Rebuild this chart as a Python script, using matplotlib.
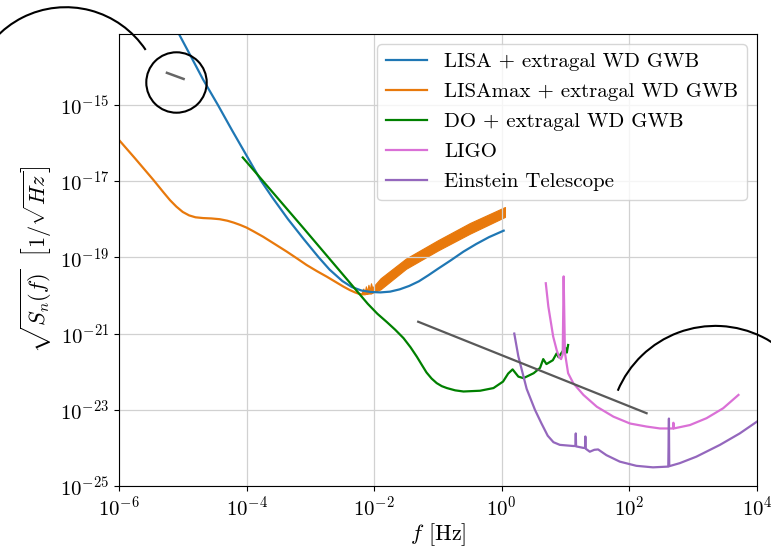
import numpy as np
import matplotlib
matplotlib.use("Agg")
import matplotlib.pyplot as plt
from matplotlib.patches import Arc
from matplotlib.ticker import NullLocator

plt.rcParams.update({
    "font.family": "serif",
    "font.serif": ["cmr10"],
    "mathtext.fontset": "cm",
    "axes.formatter.use_mathtext": True,
})

# all values are log10 of f [Hz] and of sqrt(Sn)
lisa_lf = [-5.06, -4.85, -4.68, -4.45, -4.23, -4.0, -3.77, -3.6, -3.35, -3.1, -2.87,
           -2.7, -2.5, -2.35, -2.2, -2.05, -1.9, -1.75, -1.6, -1.45, -1.3, -1.15, -1.0,
           -0.8, -0.6, -0.4, -0.2, 0.03]
lisa_ls = [-13.14, -13.8, -14.34, -15.0, -15.66, -16.33, -17.0, -17.42, -18.0, -18.53, -19.0,
           -19.32, -19.62, -19.78, -19.87, -19.91, -19.92, -19.9, -19.84, -19.75, -19.63,
           -19.47, -19.3, -19.08, -18.85, -18.65, -18.47, -18.3]

lmax_lf = [-6.0, -5.75, -5.46, -5.3, -5.2, -5.1, -5.0, -4.9, -4.8, -4.68, -4.55, -4.42,
           -4.3, -4.2, -4.1, -4.0, -3.9, -3.74, -3.55, -3.37, -3.2, -3.06, -2.9, -2.74,
           -2.6, -2.48, -2.38, -2.3, -2.25, -2.2]
lmax_ls = [-15.92, -16.4, -16.97, -17.3, -17.5, -17.67, -17.81, -17.9, -17.95, -17.97,
           -17.98, -18.0, -18.04, -18.09, -18.15, -18.22, -18.31, -18.46, -18.66, -18.85,
           -19.04, -19.2, -19.36, -19.51, -19.65, -19.77, -19.86, -19.92, -19.95, -19.97]
# oscillating part of LISAmax: upper and lower envelope
band_lf = [-2.2, -2.17, -2.15, -2.13, -2.11, -2.09, -2.07, -2.05, -2.03, -1.9,
           -1.5, -1.0, -0.5, 0.05]
band_hi = [-19.95, -19.82, -19.93, -19.76, -19.9, -19.72, -19.86, -19.68, -19.8, -19.55,
           -19.03, -18.55, -18.1, -17.68]
band_lo = [-19.97, -19.97, -19.97, -19.96, -19.96, -19.95, -19.95, -19.95, -19.93, -19.84,
           -19.3, -18.82, -18.38, -17.94]

do_lf = [-4.06, -3.1, -2.1, -1.95, -1.8, -1.67, -1.54, -1.43, -1.33, -1.25, -1.18, -1.1,
         -1.02, -0.94, -0.86, -0.73, -0.6, -0.34, -0.13, 0.02, 0.1, 0.17, 0.26, 0.34,
         0.5, 0.6, 0.65, 0.7, 0.8, 0.86, 0.89, 0.96, 1.0, 1.02, 1.04]
do_ls = [-16.38, -18.25, -20.22, -20.48, -20.7, -20.9, -21.12, -21.36, -21.61, -21.83,
         -22.02, -22.18, -22.3, -22.38, -22.43, -22.49, -22.52, -22.5, -22.43, -22.26,
         -22.05, -21.94, -22.13, -22.17, -22.04, -21.9, -21.67, -21.8, -21.7, -21.52,
         -21.62, -21.45, -21.38, -21.5, -21.3]

ligo_lf = [0.69, 0.73, 0.806, 0.86, 0.9, 0.93, 0.955, 0.97, 0.99, 1.01, 1.04, 1.12, 1.28,
           1.49, 1.75, 2.01, 2.27, 2.48, 2.66, 2.685, 2.69, 2.695, 2.95, 3.21, 3.47, 3.71]
ligo_ls = [-19.68, -20.29, -21.08, -21.43, -21.62, -21.67, -21.55, -19.5, -21.5, -21.72,
           -22.04, -22.3, -22.61, -22.92, -23.18, -23.36, -23.44, -23.49, -23.49, -23.49,
           -23.34, -23.49, -23.40, -23.22, -22.96, -22.61]

et_lf = [0.196, 0.26, 0.39, 0.52, 0.62, 0.72, 0.81, 0.91, 1.12, 1.155, 1.16, 1.165,
         1.28, 1.305, 1.31, 1.315, 1.38, 1.45, 1.51, 1.64, 1.85, 2.11, 2.37, 2.61, 2.62,
         2.625, 2.79, 3.05, 3.42, 3.73, 4.0]
et_ls = [-21.0, -21.6, -22.45, -23.0, -23.35, -23.68, -23.85, -23.92, -23.95, -23.95,
         -23.62, -23.96, -24.0, -24.0, -23.70, -24.02, -24.1, -24.05, -24.04, -24.19,
         -24.36, -24.47, -24.51, -24.49, -23.23, -24.48, -24.40, -24.23, -23.92, -23.62, -23.31]

gray_lf = [-1.31, 2.27]
gray_ls = [-20.69, -23.09]
small_lf = [-5.248, -4.987]
small_ls = [-14.16, -14.32]
circ_lf = [-5.11]
circ_ls = [-14.39]

labels = ["LISA + extragal WD GWB", "LISAmax + extragal WD GWB", "DO + extragal WD GWB",
          "LIGO", "Einstein Telescope"]
orange = "#e8790c"


def p(v):
    return 10.0 ** np.array(v)


fig = plt.figure(figsize=(7.71, 5.48), dpi=100)
ax = fig.add_axes([0.1543, 0.1131, 0.8275, 0.8249])

ax.plot(p(lisa_lf), p(lisa_ls), color="C0", lw=1.6, label=labels[0])
ax.plot(p(lmax_lf), p(lmax_ls), color=orange, lw=1.6, label=labels[1])
ax.fill_between(p(band_lf), p(band_lo), p(band_hi), color=orange, lw=0.8)
ax.plot(p(do_lf), p(do_ls), color="green", lw=1.6, label=labels[2])
ax.plot(p(ligo_lf), p(ligo_ls), color="orchid", lw=1.6, label=labels[3])
ax.plot(p(et_lf), p(et_ls), color="C4", lw=1.6, label=labels[4])
ax.plot(p(gray_lf), p(gray_ls), color="0.35", lw=1.6)
ax.plot(p(small_lf), p(small_ls), color="0.4", lw=1.8)
ax.plot(p(circ_lf), p(circ_ls), "o", ms=43.5, mfc="none", mec="k", mew=1.5)

# the two big arcs that run off the axes
fig.add_artist(Arc((0.658, 4.448), 1.92, 1.92, theta1=33.7, theta2=200,
                   transform=fig.dpi_scale_trans, color="k", lw=1.5))
fig.add_artist(Arc((7.153, 1.163), 2.116, 2.116, theta1=-30, theta2=157.2,
                   transform=fig.dpi_scale_trans, color="k", lw=1.5))

ax.set_xscale("log")
ax.set_yscale("log")
ax.set_xlim(1e-6, 1e4)
ax.set_ylim(1e-25, 10 ** -13.14)
ax.set_xticks([1e-6, 1e-4, 1e-2, 1e0, 1e2, 1e4])
ax.set_yticks([1e-25, 1e-23, 1e-21, 1e-19, 1e-17, 1e-15])
ax.xaxis.set_minor_locator(NullLocator())
ax.yaxis.set_minor_locator(NullLocator())
ax.tick_params(labelsize=15)
ax.grid(True, color="0.82", lw=0.9)

ax.set_xlabel(r"$f$ [Hz]", fontsize=16, labelpad=1)
ax.set_ylabel(r"$\sqrt{S_n(f)}\ \ \left[1/\sqrt{Hz}\right]$", fontsize=16, labelpad=4)
ax.legend(loc="upper right", fontsize=15, labelspacing=0.55)

fig.savefig("out.png", dpi=100)
